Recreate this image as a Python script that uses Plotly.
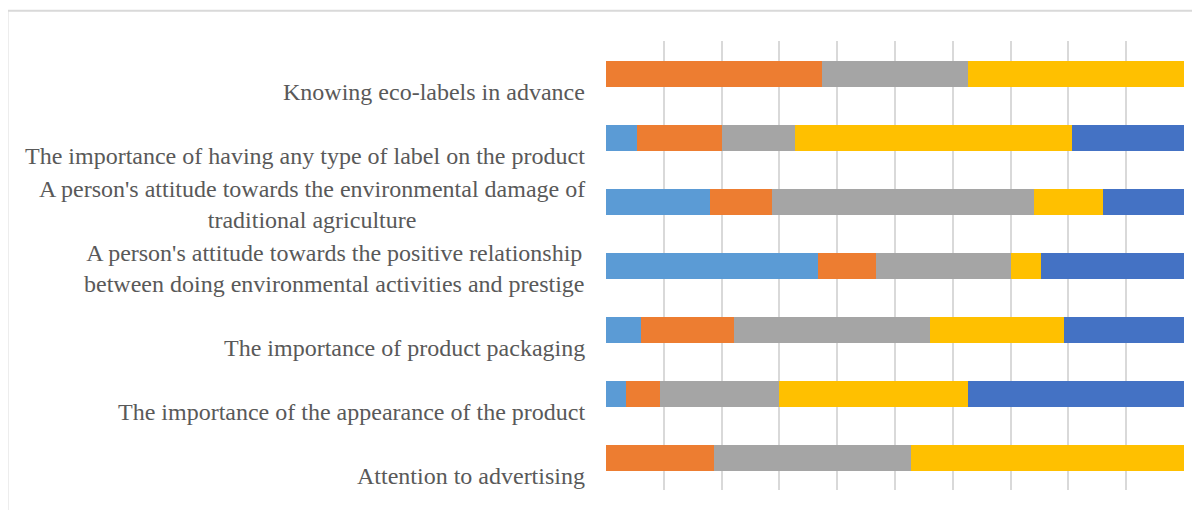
import plotly.graph_objects as go

categories = [
    "Knowing eco-labels in advance",
    "The importance of having any type of label on the product",
    "A person's attitude towards the environmental damage of<br>traditional agriculture",
    "A person's attitude towards the positive relationship<br>between doing environmental activities and prestige",
    "The importance of product packaging",
    "The importance of the appearance of the product",
    "Attention to advertising",
]
series_names = ["Series1", "Series2", "Series3", "Series4", "Series5"]
s1 = [0, 5.4, 18.0, 36.7, 6.1, 3.4, 0]
s2 = [37.4, 14.6, 10.7, 10.0, 16.0, 5.9, 18.7]
s3 = [25.3, 12.7, 45.3, 23.3, 33.9, 20.6, 34.0]
s4 = [37.3, 47.9, 12.0, 5.3, 23.3, 32.7, 47.3]
s5 = [0, 19.4, 14.0, 24.7, 20.7, 37.4, 0]
colors = ["#5B9BD5", "#ED7D31", "#A5A5A5", "#FFC000", "#4472C4"]

fig = go.Figure()
for name, vals, col in zip(series_names, [s1, s2, s3, s4, s5], colors):
    fig.add_trace(go.Bar(
        y=categories, x=vals, name=name, orientation="h",
        marker=dict(color=col, line=dict(width=0)),
        width=0.41,
    ))

for cat in categories:
    fig.add_annotation(
        x=-0.033, xref="paper", y=cat, yref="y",
        text=cat, showarrow=False, xanchor="right", yanchor="bottom",
        yshift=-33, align="center",
        font=dict(family="Liberation Serif, Times New Roman, serif", size=24, color="#595959"),
    )

# chart frame
fig.add_shape(type="rect", xref="paper", yref="paper",
              x0=-1.0355, x1=1.2, y0=-0.2, y1=1.0671,
              line=dict(color="#d9d9d9", width=2), fillcolor="rgba(0,0,0,0)", layer="below")

fig.update_layout(
    barmode="stack",
    width=1192, height=502,
    margin=dict(l=598, r=16, t=33, b=20),
    paper_bgcolor="white", plot_bgcolor="white",
    showlegend=False,
    xaxis=dict(range=[0, 100], dtick=10, showticklabels=False, showgrid=True,
               gridcolor="#d9d9d9", gridwidth=1.5, zeroline=False, showline=False, ticks=""),
    yaxis=dict(autorange="reversed", showticklabels=False, showgrid=False,
               zeroline=False, showline=False, ticks="",
               categoryorder="array", categoryarray=categories),
)

fig.write_html("out.html")
